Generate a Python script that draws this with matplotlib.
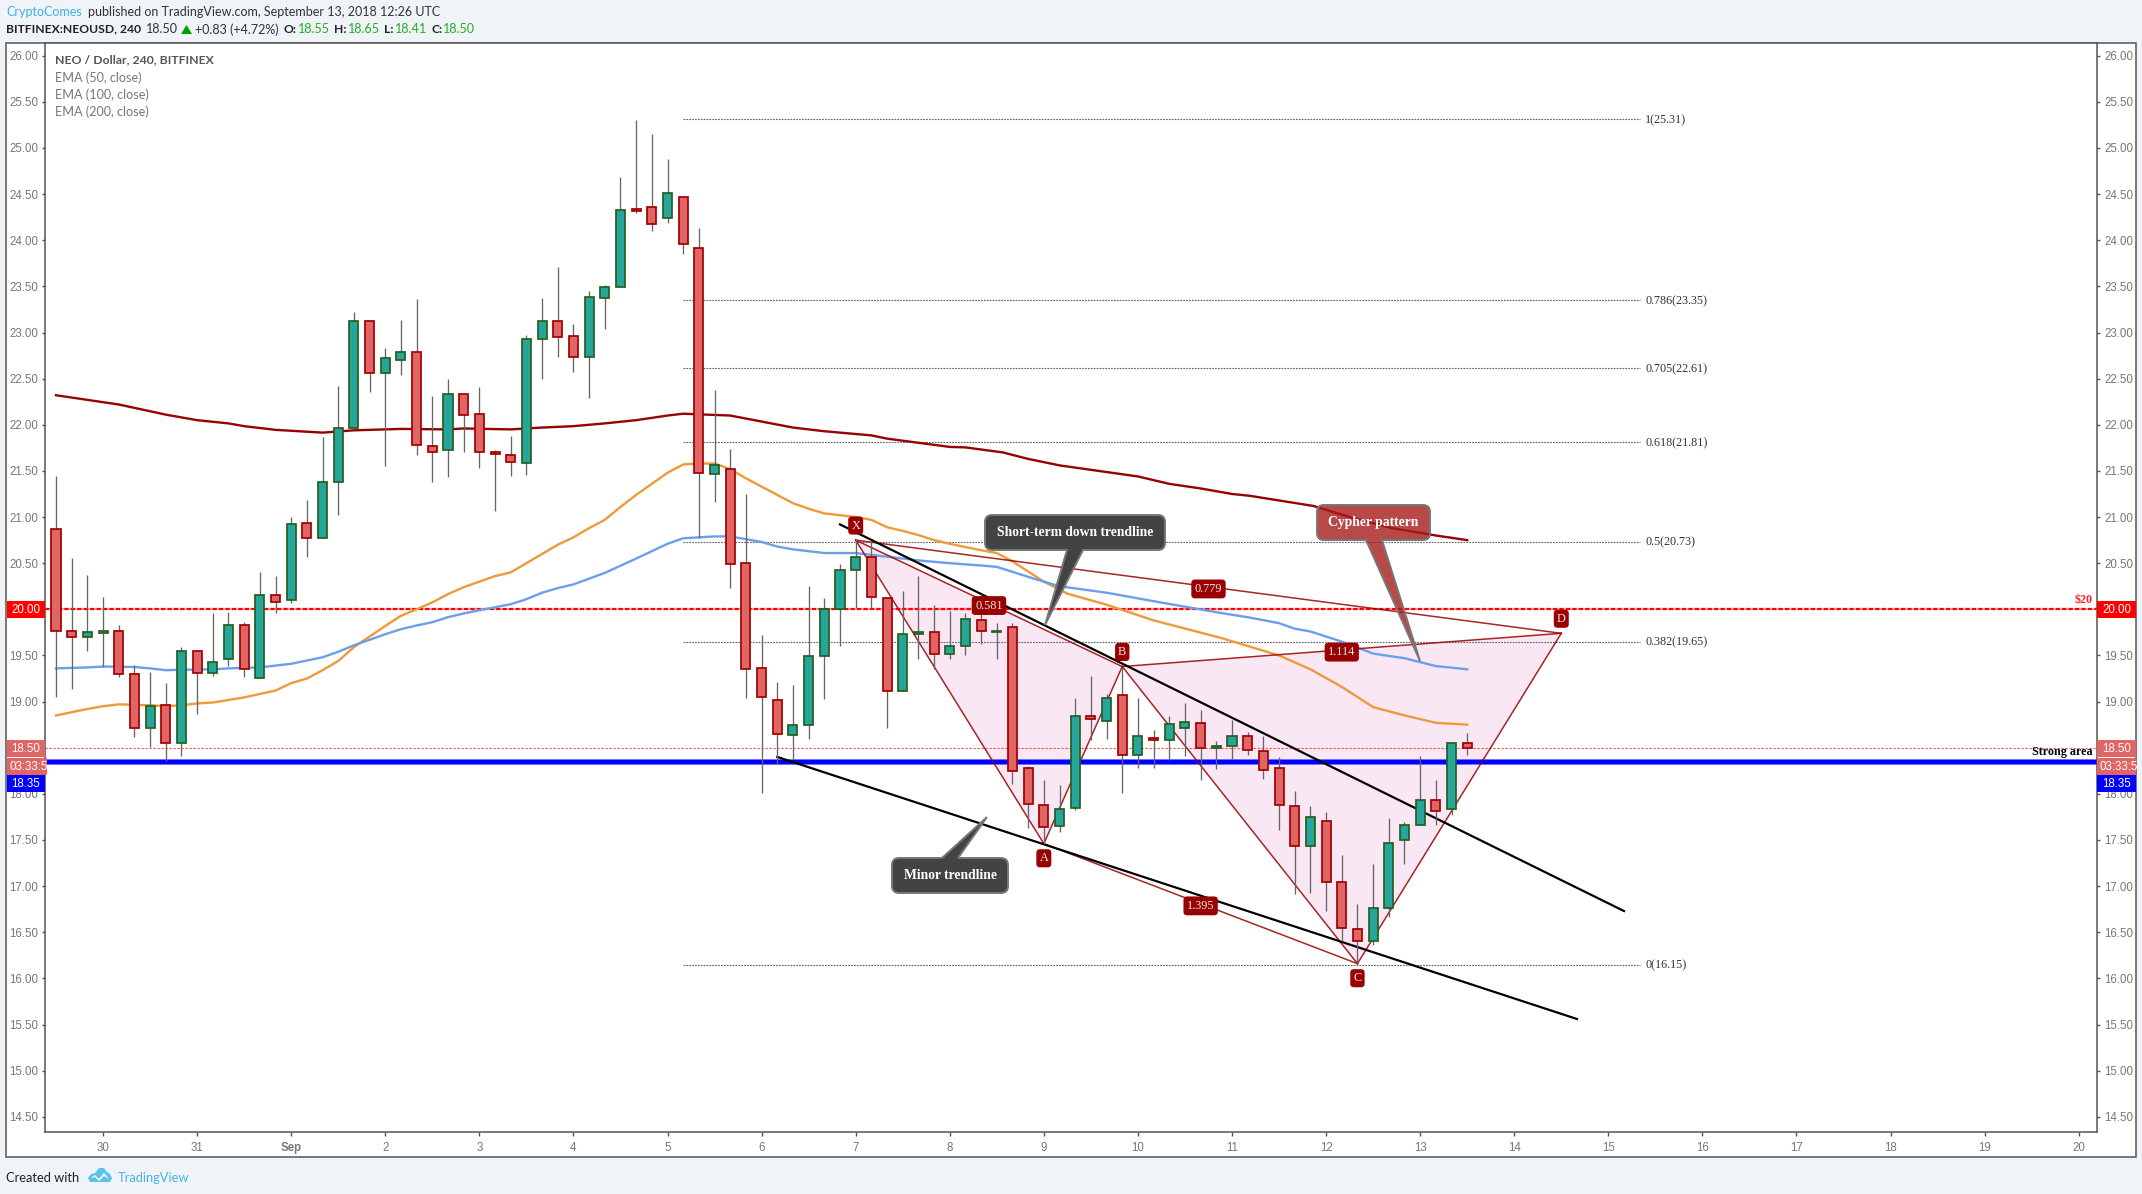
#!/usr/bin/env python3

import matplotlib
matplotlib.use("Agg")
from matplotlib import patches
from matplotlib.path import Path
from matplotlib.pyplot import figure
from matplotlib.transforms import Affine2D

opens = [20.87, 19.76, 19.70, 19.745, 19.77, 19.30, 18.71, 18.96, 18.55, 19.55,
         19.31, 19.46, 19.83, 19.26, 20.16, 20.10, 20.94, 20.77, 21.385, 21.96,
         23.13, 22.56, 22.70, 22.785, 21.775, 21.73, 22.33, 22.12, 21.70, 21.67,
         21.59, 22.93, 23.12, 22.96, 22.74, 23.37, 23.49, 24.34, 24.36, 24.24,
         24.47, 23.92, 21.47, 21.52, 20.50, 19.36, 19.02, 18.635, 18.75, 19.49,
         20.00, 20.43, 20.57, 20.12, 19.12, 19.73, 19.75, 19.52, 19.60, 19.88,
         19.75, 19.805, 18.28, 17.875, 17.65, 17.845, 18.84, 18.785, 19.07, 18.42,
         18.60, 18.58, 18.71, 18.765, 18.50, 18.515, 18.625, 18.46, 18.28, 17.865,
         17.44, 17.71, 17.04, 16.54, 16.40, 16.76, 17.495, 17.66, 17.93, 17.84,
         18.55]
highs = [21.44, 20.555, 20.37, 20.13, 19.83, 19.40, 19.32, 19.20, 19.59, 19.55,
         19.96, 19.97, 19.86, 20.40, 20.36, 21.00, 21.19, 21.87, 22.42, 23.22,
         23.13, 22.83, 23.135, 23.36, 22.31, 22.50, 22.33, 22.41, 21.73, 21.88,
         22.97, 23.37, 23.71, 23.09, 23.45, 23.51, 24.68, 25.30, 25.15, 24.88,
         24.47, 24.13, 22.38, 21.74, 21.25, 19.72, 19.21, 19.18, 20.25, 20.12,
         20.49, 20.76, 20.73, 20.12, 20.20, 20.36, 20.05, 19.985, 19.96, 20.17,
         19.85, 19.85, 18.30, 18.145, 18.10, 19.04, 19.28, 19.08, 19.38, 19.04,
         18.69, 18.84, 18.985, 18.91, 18.57, 18.80, 18.67, 18.63, 18.395, 18.03,
         17.87, 17.80, 17.34, 16.805, 17.24, 17.74, 17.69, 18.41, 18.15, 18.55,
         18.66]
lows = [19.05, 19.14, 19.55, 19.37, 19.27, 18.62, 18.51, 18.36, 18.41, 18.87,
        19.28, 19.39, 19.27, 19.26, 19.96, 20.07, 20.57, 20.77, 21.02, 21.96,
        22.35, 21.555, 22.54, 21.67, 21.38, 21.43, 21.70, 21.53, 21.07, 21.45,
        21.46, 22.50, 22.73, 22.57, 22.29, 23.04, 23.49, 24.29, 24.10, 24.19,
        23.85, 20.77, 21.16, 20.235, 19.04, 18.01, 18.32, 18.38, 18.59, 19.03,
        19.60, 20.015, 20.015, 18.71, 19.12, 19.465, 19.35, 19.465, 19.50, 19.62,
        19.465, 18.11, 17.63, 17.46, 17.59, 17.825, 18.585, 18.59, 18.01, 18.285,
        18.285, 18.37, 18.415, 18.155, 18.27, 18.38, 18.425, 18.165, 17.61, 16.91,
        16.93, 16.73, 16.40, 16.16, 16.365, 16.67, 17.24, 17.66, 17.665, 17.775,
        18.42]
closes = [19.76, 19.70, 19.75, 19.77, 19.30, 18.71, 18.95, 18.55, 19.55, 19.31,
          19.43, 19.83, 19.35, 20.16, 20.08, 20.93, 20.77, 21.375, 21.96, 23.13,
          22.56, 22.72, 22.785, 21.78, 21.71, 22.33, 22.11, 21.70, 21.68, 21.60,
          22.93, 23.12, 22.95, 22.73, 23.38, 23.49, 24.33, 24.32, 24.18, 24.51,
          23.955, 21.48, 21.56, 20.49, 19.35, 19.05, 18.645, 18.75, 19.49, 20.00,
          20.43, 20.57, 20.13, 19.12, 19.73, 19.75, 19.52, 19.60, 19.90, 19.76,
          19.76, 18.25, 17.885, 17.64, 17.84, 18.84, 18.81, 19.035, 18.42, 18.625,
          18.58, 18.755, 18.775, 18.495, 18.515, 18.625, 18.48, 18.255, 17.875, 17.43,
          17.745, 17.05, 16.55, 16.40, 16.76, 17.465, 17.66, 17.93, 17.81, 18.55,
          18.50]

ema50_x = [0, 2, 3, 4, 6, 7, 8, 9, 10, 12, 14, 15, 16, 17, 18, 19, 20, 21, 22, 23,
           24, 25, 26, 27, 28, 29, 30, 31, 32, 33, 34, 35, 36, 37, 38, 39, 40, 41,
           42, 43, 44, 45, 46, 47, 48, 49, 50, 51, 52, 53, 54, 55, 56, 57, 58, 59,
           60, 61, 62, 63, 64.5, 67, 70, 74.3, 78, 80, 82, 84, 86, 88, 90]
ema50_y = [18.85, 18.92, 18.95, 18.97, 18.96, 18.95, 18.96, 18.98, 18.99, 19.045,
           19.12, 19.20, 19.25, 19.34, 19.44, 19.59, 19.705, 19.82, 19.93, 20.00,
           20.075, 20.165, 20.24, 20.30, 20.36, 20.40, 20.50, 20.60, 20.70, 20.78,
           20.88, 20.97, 21.11, 21.24, 21.36, 21.48, 21.57, 21.58, 21.58, 21.52,
           21.42, 21.33, 21.24, 21.15, 21.09, 21.04, 21.02, 21.00, 20.97, 20.89,
           20.85, 20.805, 20.75, 20.71, 20.675, 20.64, 20.61, 20.52, 20.41, 20.30,
           20.17, 20.05, 19.88, 19.69, 19.50, 19.35, 19.16, 18.94, 18.85, 18.77, 18.75]
ema100_x = [0, 2, 3, 5, 6, 7, 8, 10, 11, 13, 14, 15, 17, 18, 19, 21, 22, 23, 24, 25,
            26, 27, 29, 30, 31, 32, 33, 35, 37, 39, 40, 41, 42, 43, 44, 45, 46, 47,
            49, 51, 53, 55, 57, 59, 60, 62.6, 64, 67, 70.6, 74.3, 76.15, 78, 79, 80,
            82, 84, 86, 88, 90]
ema100_y = [19.36, 19.37, 19.38, 19.375, 19.36, 19.34, 19.345, 19.35, 19.36, 19.37,
            19.39, 19.41, 19.48, 19.54, 19.61, 19.73, 19.785, 19.825, 19.86, 19.915,
            19.955, 19.99, 20.055, 20.11, 20.18, 20.23, 20.27, 20.395, 20.55, 20.71,
            20.77, 20.78, 20.79, 20.79, 20.76, 20.73, 20.68, 20.65, 20.61, 20.61,
            20.57, 20.53, 20.50, 20.475, 20.46, 20.32, 20.25, 20.18, 20.07, 19.96,
            19.91, 19.85, 19.79, 19.76, 19.65, 19.52, 19.47, 19.385, 19.35]
ema200_x = [0, 2, 4, 7, 9, 11, 12, 14, 17, 19, 22, 25, 26, 29, 31, 33, 35, 37, 39,
            40, 43, 47, 49, 52, 53, 57, 58, 60.4, 62, 64, 69, 71, 73, 75, 76.15,
            80.2, 82.5, 85.2, 88, 90]
ema200_y = [22.32, 22.27, 22.22, 22.11, 22.05, 22.015, 21.985, 21.945, 21.915, 21.94,
            21.955, 21.95, 21.96, 21.95, 21.97, 21.985, 22.015, 22.05, 22.10, 22.12,
            22.10, 21.97, 21.93, 21.885, 21.85, 21.76, 21.755, 21.70, 21.63, 21.56,
            21.44, 21.36, 21.31, 21.25, 21.23, 21.12, 21.00, 20.88, 20.80, 20.75]

fib_ratios = ["1", "0.786", "0.705", "0.618", "0.5", "0.382", "0"]
fib_levels = [25.31, 23.35, 22.61, 21.81, 20.73, 19.65, 16.15]

# X, A, B, C, D of the harmonic
pattern_names = ["X", "A", "B", "C", "D"]
pattern_x = [51, 63, 68, 83, 96]
pattern_y = [20.75, 17.46, 19.38, 16.16, 19.74]
pattern_ratios = {"0.581": (0, 2), "0.779": (0, 4), "1.395": (1, 3), "1.114": (2, 4)}

short_trend_x = [50, 100]
short_trend_y = [20.92, 16.73]
minor_trend_x = [46, 97]
minor_trend_y = [18.40, 15.56]

day_labels = ["30", "31", "Sep", "2", "3", "4", "5", "6", "7", "8", "9", "10", "11",
              "12", "13", "14", "15", "16", "17", "18", "19", "20"]
price_ticks = [14.5 + 0.5 * n for n in range(24)]

GREEN = "#26A69A"
GREEN_EDGE = "#255E1E"
RED = "#E06666"
RED_EDGE = "#A30000"
PATTERN = "#990000"
BG = "#F0F3F7"
FRAME = "#555555"
SERIF = "Liberation Serif"
UI = "Lato"
AXIS_FONT = "Liberation Sans"

fig = figure(figsize=(21.42, 11.94), dpi=100, facecolor=BG)
ax = fig.add_axes([45 / 2142, 62 / 1194, 2052 / 2142, 1089 / 1194])
# the page furniture is placed in screen pixels, y going down
pix = Affine2D().scale(1 / 2142, -1 / 1194).translate(0, 1) + fig.transFigure


def put_text(x, y, s, color="#333333", size=9.0, weight="normal", ha="left", family=UI, zorder=12, **kw):
    return fig.text(x, y, s, transform=pix, color=color, fontsize=size, fontweight=weight,
                    ha=ha, va="center", family=family, zorder=zorder, **kw)


def price_tag(x0, x1, y0, y1, color, s, inset=5):
    fig.add_artist(patches.Rectangle((x0, y0), x1 - x0, y1 - y0, transform=pix, fc=color, ec="none", zorder=11))
    put_text(x0 + inset, (y0 + y1) / 2 + 0.5, s, color="white", size=8.3, family=AXIS_FONT)


def callout(x0, y0, x1, y1, base0, base1, tip, face, up=False, r=7):
    # rounded box with a pointed tail, as one outline
    codes = [Path.MOVETO]
    verts = [(x0 + r, y0)]

    def to(*pts):
        for p in pts:
            verts.append(p)
            codes.append(Path.LINETO)

    def corner(c, p):
        verts.extend([c, p])
        codes.extend([Path.CURVE3, Path.CURVE3])

    if up:
        to((base0, y0), tip, (base1, y0))
    to((x1 - r, y0))
    corner((x1, y0), (x1, y0 + r))
    to((x1, y1 - r))
    corner((x1, y1), (x1 - r, y1))
    if not up:
        to((base1, y1), tip, (base0, y1))
    to((x0 + r, y1))
    corner((x0, y1), (x0, y1 - r))
    to((x0, y0 + r))
    corner((x0, y0), (x0 + r, y0))
    fig.add_artist(patches.PathPatch(Path(verts, codes), transform=pix, fc=face, ec="#777777",
                                     lw=1.4, zorder=9))


# candles
xs = list(range(len(opens)))
ax.vlines(xs, lows, highs, color="#666666", lw=0.95, zorder=5)
tops = [max(o, c) for o, c in zip(opens, closes)]
bottoms = [min(o, c) for o, c in zip(opens, closes)]
up = [c >= o for o, c in zip(opens, closes)]
ax.bar(xs, [t - b for t, b in zip(tops, bottoms)], bottom=bottoms, width=0.575,
       color=[GREEN if u else RED for u in up],
       edgecolor=[GREEN_EDGE if u else RED_EDGE for u in up],
       linewidth=1.25, zorder=6)

# moving averages
ax.plot(ema50_x, ema50_y, color="#EE9A3A", lw=1.7, zorder=3, solid_joinstyle="round")
ax.plot(ema100_x, ema100_y, color="#6D9EEB", lw=1.7, zorder=3, solid_joinstyle="round")
ax.plot(ema200_x, ema200_y, color="#990000", lw=1.7, zorder=3, solid_joinstyle="round")

# fib retracement
for ratio, level in zip(fib_ratios, fib_levels):
    ax.plot([40, 101], [level, level], color="#666666", lw=0.8, dashes=(1.6, 1.0), zorder=2)
    ax.annotate("{}({:.2f})".format(ratio, level), (101, level), xytext=(4, -0.5), textcoords="offset points",
                color="#333333", fontsize=8.7, family=SERIF, va="center", zorder=8)

# horizontal levels
ax.axhline(20, color="#FF0000", lw=1.5, alpha=0.35, zorder=2)
ax.axhline(20, color="#FF0000", lw=1.6, dashes=(1.9, 1.0), zorder=2.1)
ax.axhline(18.5, color="#EF4F4F", lw=0.8, dashes=(2.0, 1.6), zorder=2)
ax.axhline(18.35, color="#6666FF", lw=4.2, zorder=2.2)
ax.axhline(18.35, color="#0000FF", lw=2.9, zorder=2.3)
ax.text(129.9, 20.035, "$20", color="#FF2222", fontsize=8.7, fontweight="bold", family=SERIF,
        ha="right", va="bottom", zorder=8, parse_math=False)
ax.text(129.9, 18.385, "Strong area", color="black", fontsize=8.7, fontweight="bold", family=SERIF,
        ha="right", va="bottom", zorder=8)

# cypher pattern
for tri in [(0, 1, 2), (2, 3, 4)]:
    ax.fill([pattern_x[k] for k in tri], [pattern_y[k] for k in tri], color="#F9E7F4", lw=0, zorder=1)
for a, b in [(0, 1), (1, 2), (0, 2), (2, 3), (3, 4), (2, 4), (0, 4), (1, 3)]:
    ax.plot([pattern_x[a], pattern_x[b]], [pattern_y[a], pattern_y[b]], color=PATTERN, lw=1.1, alpha=0.85, zorder=3.5)
for name, (a, b) in pattern_ratios.items():
    mid = ((pattern_x[a] + pattern_x[b]) / 2, (pattern_y[a] + pattern_y[b]) / 2)
    ax.annotate(name, mid, xytext=(0, -1.6), textcoords="offset points", color="#F4E6E6",
                fontsize=8.8, family=SERIF, ha="center", va="center", zorder=7,
                bbox=dict(boxstyle="round,pad=0.28,rounding_size=0.3", fc=PATTERN, ec="none"))
for name, px, py, above in zip(pattern_names, pattern_x, pattern_y, [1, 0, 1, 0, 1]):
    ax.annotate(name, (px, py), xytext=(0, 10.5 if above else -10.5), textcoords="offset points",
                color="#F4E6E6", fontsize=8.8, family=SERIF, ha="center", va="center", zorder=7,
                bbox=dict(boxstyle="round,pad=0.25,rounding_size=0.3", fc=PATTERN, ec="none"))

# trend lines
ax.plot(short_trend_x, short_trend_y, color="black", lw=1.6, zorder=4)
ax.plot(minor_trend_x, minor_trend_y, color="black", lw=1.6, zorder=4)

# axes
ax.set_xlim((45 - 56) / 15.68, (2097 - 56) / 15.68)
ax.set_ylim(26 - (1132 - 55.7) / 92.27, 26 + (55.7 - 43) / 92.27)
ax.set_yticks(price_ticks, ["{:.2f}".format(p) for p in price_ticks], family=AXIS_FONT)
ax.set_xticks([3 + 6 * n for n in range(len(day_labels))], day_labels, family=AXIS_FONT)
ax.get_xticklabels()[2].set_fontweight("bold")
ax.tick_params(axis="y", left=True, right=True, labelleft=True, labelright=True, length=2.4, width=1,
               color=FRAME, labelcolor="#777777", labelsize=8.3, pad=2.6)
ax.tick_params(axis="x", length=2.8, width=1, color=FRAME, labelcolor="#777777", labelsize=8.3, pad=4.3)
# the tags below carry these two prices
for tick, price in zip(ax.yaxis.get_major_ticks(), price_ticks):
    if price in (18.5, 20.0):
        tick.label1.set_visible(False)
        tick.label2.set_visible(False)
for side in ax.spines.values():
    side.set_color(FRAME)
    side.set_linewidth(1.1)

# outer frame
fig.add_artist(patches.Rectangle((6, 43), 2130, 1114, transform=pix, fc="white", ec=FRAME, lw=1.1, zorder=-1))

# price scale tags
for x0, x1 in [(6.5, 45), (2097, 2135.5)]:
    price_tag(x0, x1, 601, 618, "#FF0000", "20.00")
    price_tag(x0, x1, 740, 757, RED, "18.50")
    price_tag(x0, x1 + 2 if x0 < 10 else x1, 758, 775, RED, "03:33:5", inset=2.5)
    price_tag(x0, x1, 775, 792, "#0000FF", "18.35")

# callouts
callout(985, 515, 1165, 550, 1067, 1083, (1045, 625), "#434343")
put_text(1075, 532.5, "Short-term down trendline", color="white", size=9.8, weight="bold", ha="center", family=SERIF)
callout(892, 858, 1008, 893, 942, 958, (987, 817), "#434343", up=True)
put_text(950, 875.5, "Minor trendline", color="white", size=9.8, weight="bold", ha="center", family=SERIF)
callout(1317, 505, 1430, 540, 1366, 1382, (1420, 661), (0.65, 0.11, 0.11, 0.8))
put_text(1373.5, 522.5, "Cypher pattern", color="white", size=9.8, weight="bold", ha="center", family=SERIF)

# legend block
put_text(55, 60, "NEO / Dollar, 240, BITFINEX", color="#555555", size=8.85, weight="bold")
put_text(55, 77.7, "EMA (50, close)", color="#777777", size=9.1)
put_text(55, 94.7, "EMA (100, close)", color="#777777", size=9.1)
put_text(55, 111.7, "EMA (200, close)", color="#777777", size=9.1)

# header
put_text(6, 11.7, "CryptoComes", color="#3BB3E4")
put_text(88, 11.7, "published on TradingView.com, September 13, 2018 12:26 UTC", color="#333333")
put_text(6, 29.3, "BITFINEX:NEOUSD, 240", color="#222222", size=8.7, weight="bold")
put_text(146, 29.3, "18.50", color="#333333")
fig.add_artist(patches.Polygon([(181, 34), (192, 34), (186.5, 25)], transform=pix, fc="#00A000", ec="none", zorder=12))
put_text(195, 29.3, "+0.83 (+4.72%)", color="#333333")
for x_name, name, x_val, val in [(284, "O:", 298, "18.55"), (334, "H:", 348, "18.65"),
                                 (384, "L:", 395, "18.41"), (431, "C:", 443, "18.50")]:
    put_text(x_name, 29.3, name, color="#222222", size=8.7, weight="bold")
    put_text(x_val, 29.3, val, color="#22B022")

# footer
put_text(6, 1177.5, "Created with", color="#222222", size=9.3)
put_text(118, 1177.5, "TradingView", color="#45B5E5", size=9.3)
cloud = [(88, 1178), (91, 1174), (95, 1173), (99, 1168), (104, 1168), (107, 1172), (110, 1174), (112, 1178),
         (110, 1182), (90, 1182)]
fig.add_artist(patches.Polygon(cloud, transform=pix, fc="#5BC4E9", ec="none", zorder=12))
fig.add_artist(patches.Polygon([(91, 1178), (95, 1175), (99, 1179), (104, 1173), (109, 1179), (104, 1176), (99, 1181), (95, 1177)],
                               transform=pix, fc="white", ec="none", zorder=13))

fig.savefig("out.png", dpi=100, facecolor=BG)
